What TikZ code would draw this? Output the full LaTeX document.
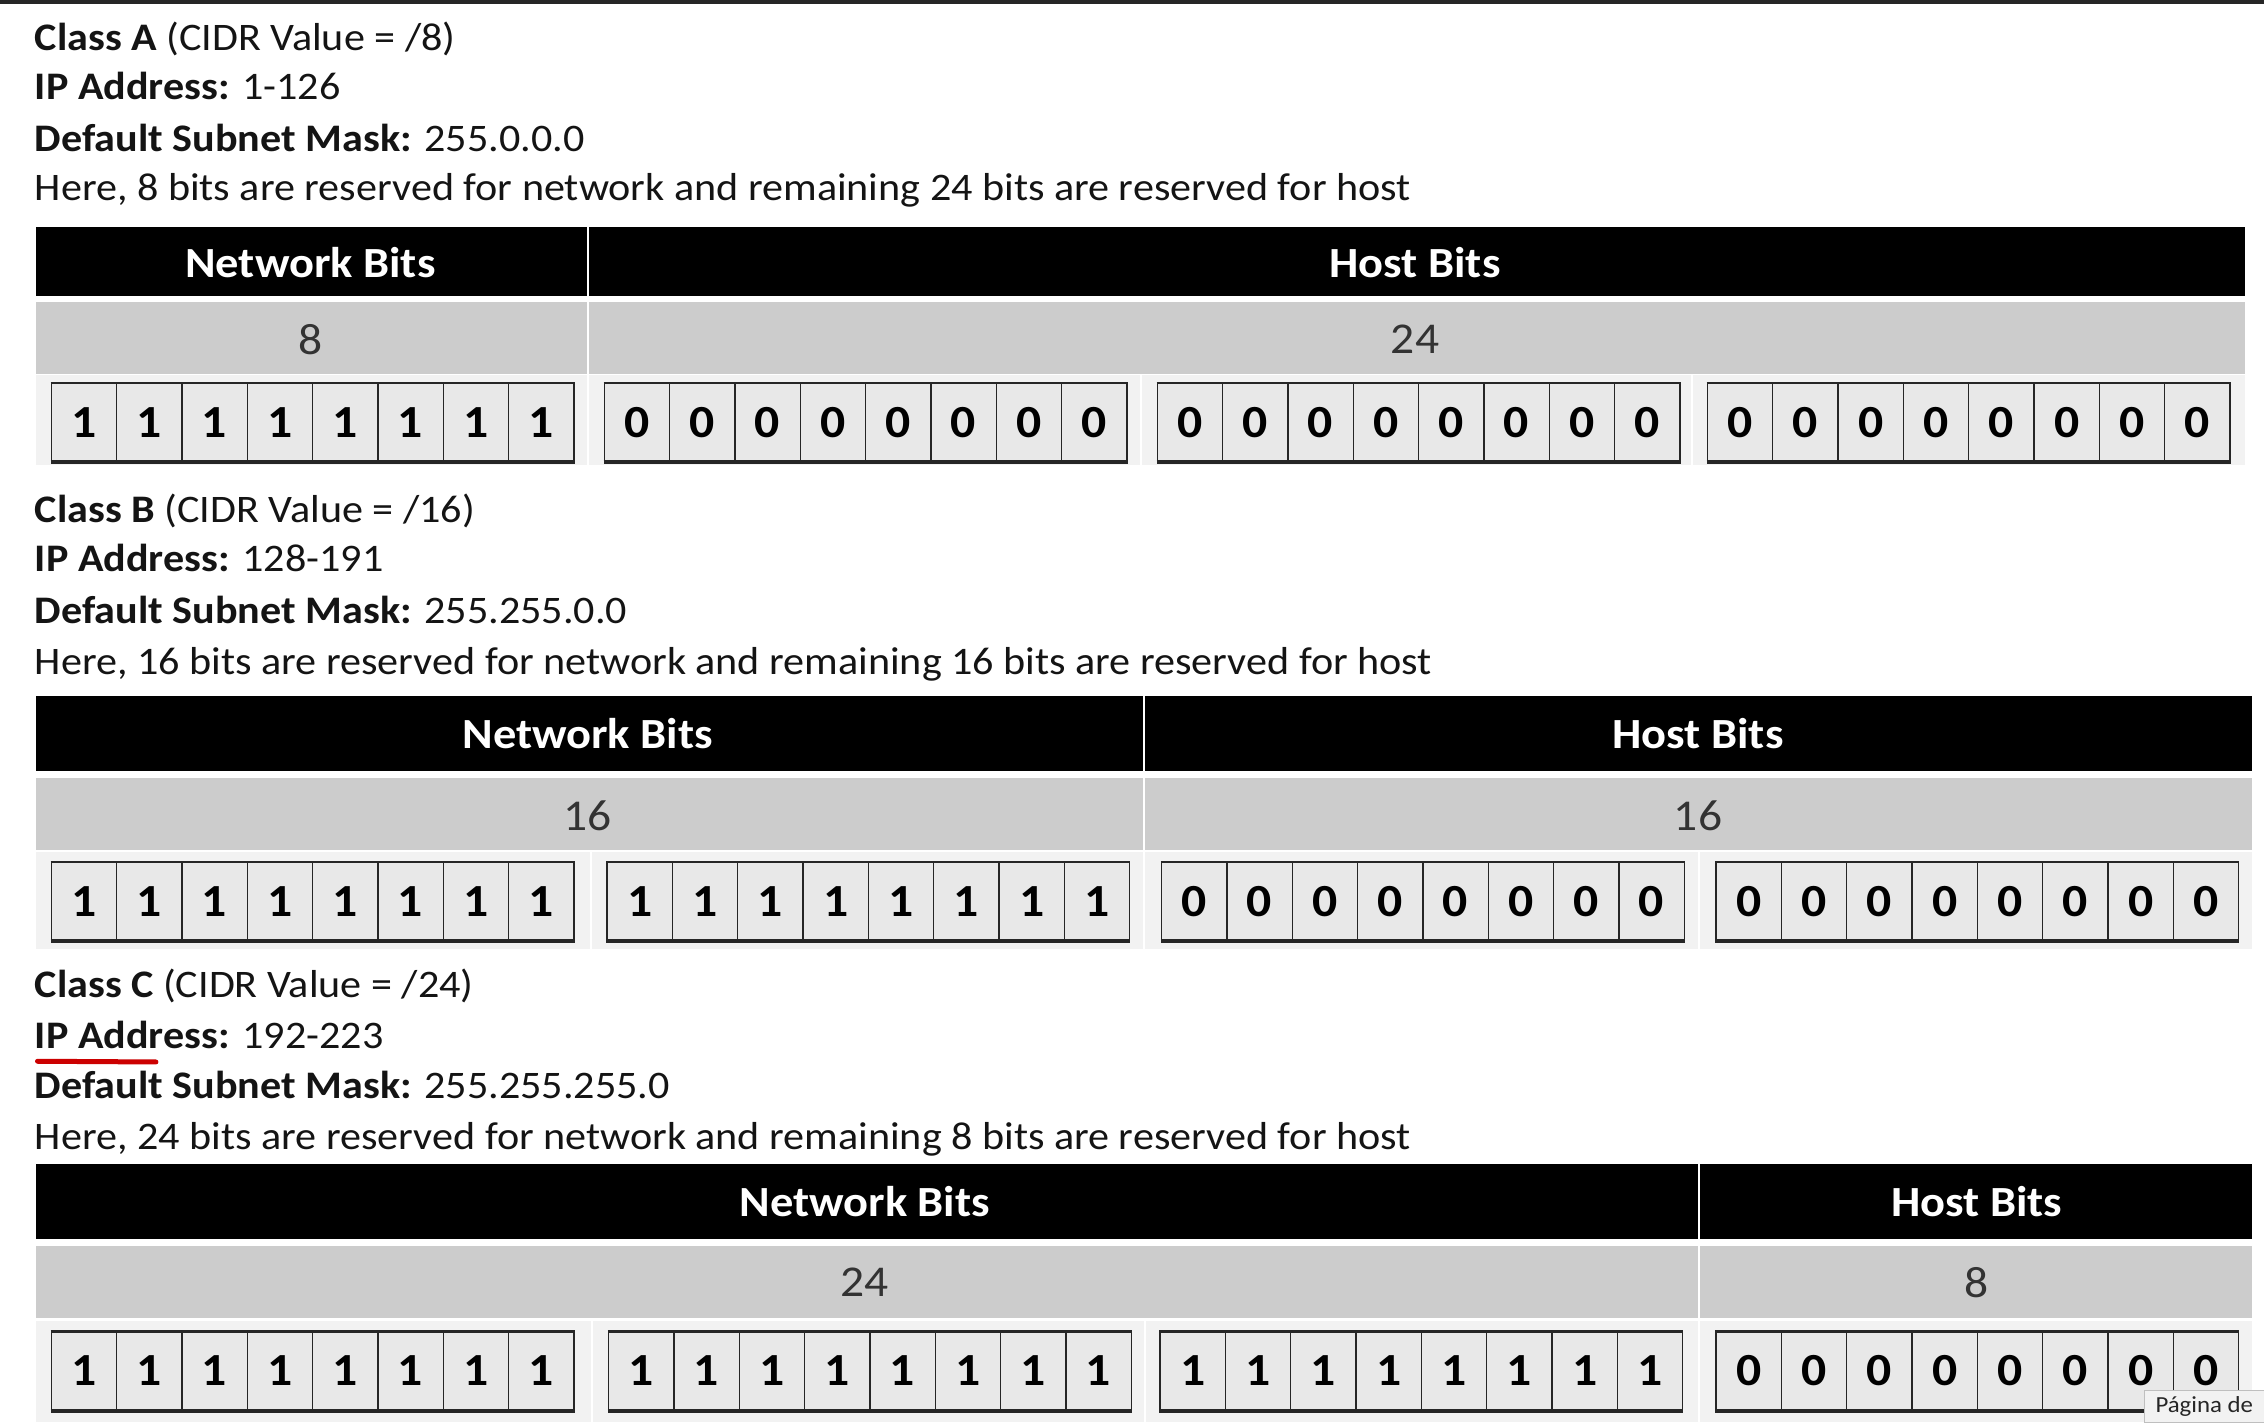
\documentclass[tikz,border=0pt]{standalone}
\usepackage{fontspec}
\setmainfont[FakeStretch=1.08]{Carlito}
\newcommand\mybitgrp[4]{%
  \foreach \k in {0,...,7} {
    \node[bitcell] (#1c\k) at ({#2+\k*45.25},#3) {#4};
  }
  \draw[line width=2pt, black!85] (#1c0.north west) -- (#1c7.north east);
  \draw[line width=4pt, black!85] (#1c0.south west) -- (#1c7.south east);
}
\begin{document}
\begin{tikzpicture}[x=1.4439pt,y=-1.4439pt,
  txt/.style={anchor=base west, inner sep=0pt, font=\fontsize{39}{46}\selectfont, text=black!92},
  hdrtxt/.style={text=white, inner sep=0pt, font=\fontsize{43}{50}\selectfont\bfseries},
  numtxt/.style={inner sep=0pt, font=\fontsize{44}{50}\selectfont, text=black!80},
  hdrfill/.style={fill=black},
  grayfill/.style={fill=black!20},
  rowfill/.style={fill=black!5},
  sep/.style={white, line width=2pt},
  bitcell/.style={draw=black!85, line width=1.3pt, fill=black!9, anchor=north west,
    minimum width=65.34pt, minimum height=78pt, inner sep=0pt,
    font=\fontsize{46}{50}\selectfont\bfseries, text=black}
]
\useasboundingbox (0,0) rectangle (1568,985);
\fill[white] (0,0) rectangle (1568,985);
\fill[black!85] (0,0) rectangle (1568,3);

% ---------------- Class A ----------------
\node[txt] (aT1) at (24,35) {\textbf{Class A} (CIDR Value = /8)};
\node[txt] (aT2) at (24,69) {\textbf{IP Address:} 1-126};
\node[txt] (aT3) at (24,105) {\textbf{Default Subnet Mask:} 255.0.0.0};
\node[txt] (aT4) at (24,139) {Here, 8 bits are reserved for network and remaining 24 bits are reserved for host};

\fill[hdrfill] (25,157) rectangle (1555,205);
\fill[grayfill] (25,209) rectangle (1555,259);
\fill[rowfill] (25,260) rectangle (1555,322);
\draw[sep] (407,157) -- (407,259);
\draw[sep] (407.5,260) -- (407.5,322);
\draw[sep] (790,260) -- (790,322);
\draw[sep] (1172,260) -- (1172,322);
\node[hdrtxt] (aNet) at (215,182) {Network Bits};
\node[hdrtxt] (aHost) at (980,182) {Host Bits};
\node[numtxt] (aN1) at (215,235) {8};
\node[numtxt] (aN2) at (980,235) {24};
\mybitgrp{aa}{35}{265}{1}
\mybitgrp{ab}{418}{265}{0}
\mybitgrp{ac}{801}{265}{0}
\mybitgrp{ad}{1182}{265}{0}

% ---------------- Class B ----------------
\node[txt] (bT1) at (24,362) {\textbf{Class B} (CIDR Value = /16)};
\node[txt] (bT2) at (24,396) {\textbf{IP Address:} 128-191};
\node[txt] (bT3) at (24,432) {\textbf{Default Subnet Mask:} 255.255.0.0};
\node[txt] (bT4) at (24,467) {Here, 16 bits are reserved for network and remaining 16 bits are reserved for host};

\fill[hdrfill] (25,482) rectangle (1560,534);
\fill[grayfill] (25,539) rectangle (1560,589);
\fill[rowfill] (25,590) rectangle (1560,657);
\draw[sep] (792,482) -- (792,589);
\draw[sep] (409,590) -- (409,657);
\draw[sep] (792.5,590) -- (792.5,657);
\draw[sep] (1177,590) -- (1177,657);
\node[hdrtxt] (bNet) at (407,508) {Network Bits};
\node[hdrtxt] (bHost) at (1176,508) {Host Bits};
\node[numtxt] (bN1) at (407,565) {16};
\node[numtxt] (bN2) at (1176,565) {16};
\mybitgrp{ba}{35}{597}{1}
\mybitgrp{bb}{420}{597}{1}
\mybitgrp{bc}{804}{597}{0}
\mybitgrp{bd}{1188}{597}{0}

% ---------------- Class C ----------------
\node[txt] (cT1) at (24,691) {\textbf{Class C} (CIDR Value = /24)};
\node[txt] (cT2) at (24,726) {\textbf{IP Address:} 192-223};
\node[txt] (cT3) at (24,761) {\textbf{Default Subnet Mask:} 255.255.255.0};
\node[txt] (cT4) at (24,796) {Here, 24 bits are reserved for network and remaining 8 bits are reserved for host};
\draw[red!80!black, line width=5pt, line cap=round] (26,735) -- (108,735.5);

\fill[hdrfill] (25,806) rectangle (1560,858);
\fill[grayfill] (25,863) rectangle (1560,913);
\fill[rowfill] (25,915) rectangle (1560,985);
\draw[sep] (1177,806) -- (1177,913);
\draw[sep] (410,915) -- (410,985);
\draw[sep] (793,915) -- (793,985);
\draw[sep] (1177,915) -- (1177,985);
\node[hdrtxt] (cNet) at (599,832) {Network Bits};
\node[hdrtxt] (cHost) at (1369,832) {Host Bits};
\node[numtxt] (cN1) at (599,888) {24};
\node[numtxt] (cN2) at (1369,888) {8};
\mybitgrp{ca}{35}{922}{1}
\mybitgrp{cb}{421}{922}{1}
\mybitgrp{cc}{803}{922}{1}
\mybitgrp{cd}{1188}{922}{0}

% tooltip
\node[draw=black!25, fill=black!5, anchor=north west, minimum width=83*1.4439pt,
  minimum height=22*1.4439pt, inner sep=0pt, text=black!85,
  font=\fontsize{23}{26}\selectfont] (tip) at (1485,963) {Página de};
\end{tikzpicture}
\end{document}
